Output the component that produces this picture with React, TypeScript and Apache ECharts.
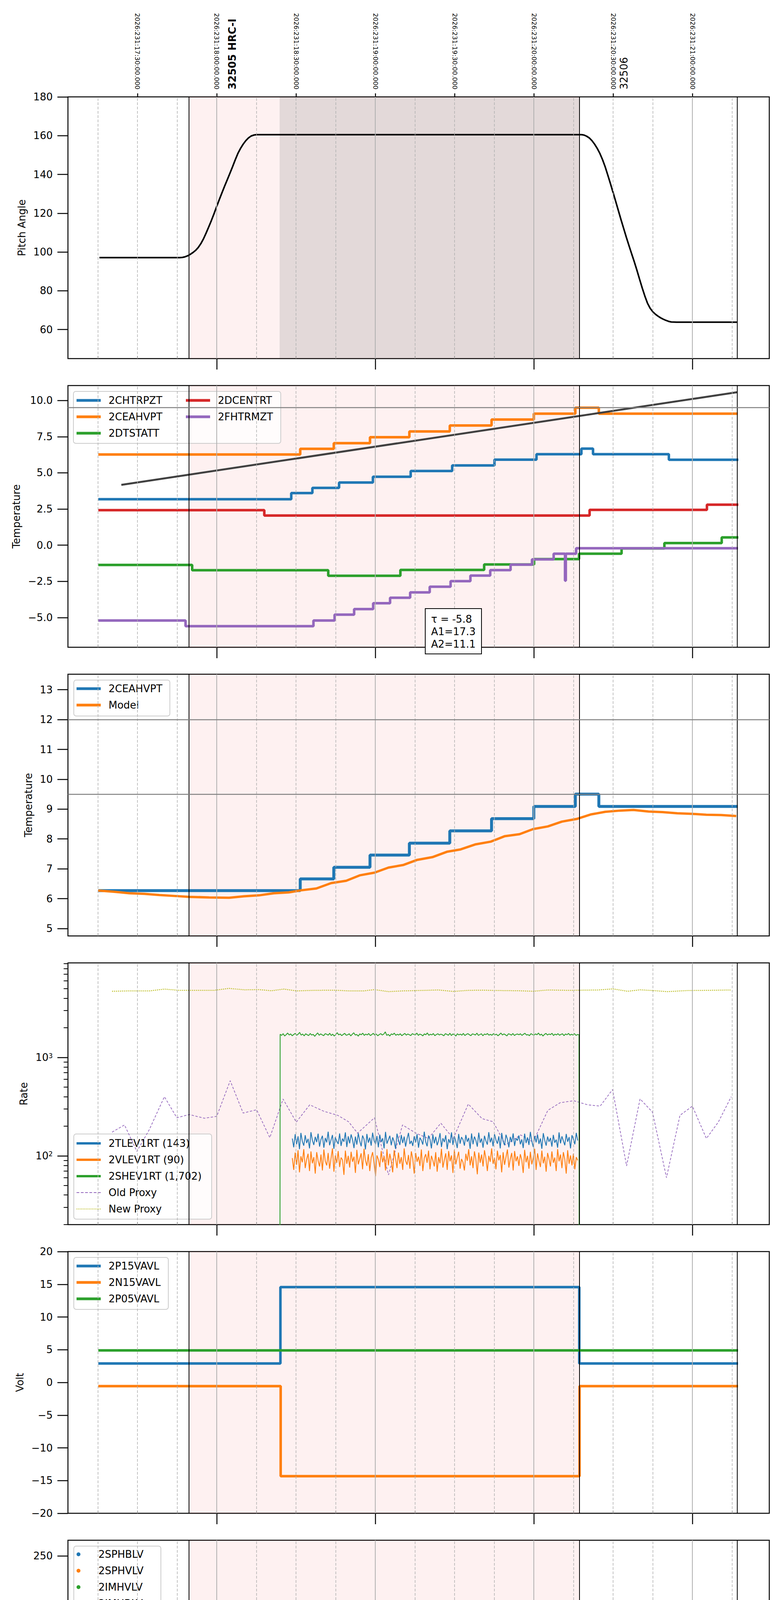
import React, { useEffect, useRef } from 'react';
import * as echarts from 'echarts';

// time axis: minutes after 2026:231:17:00 UTC
const FONT = 'DejaVu Sans';
const T_MIN = 3.7;
const T_MAX = 269.1;
const GRID_TOPS = [248, 987, 1726, 2465, 3204, 3943, 4682, 5421];
const GRID_H = 670;

const HOUR_TICKS = [60, 120, 180, 240];
const QUARTER_TICKS = [15, 30, 45, 75, 90, 105, 135, 150, 165, 195, 210, 225, 255];
const TOP_TICKS = [30, 60, 90, 120, 150, 180, 210, 240];
const BOTTOM_LABELS = [15, 30, 45, 60, 75, 90, 105, 120, 135, 150, 165, 180, 195, 210, 225, 240, 255];

const OBS_START = 49.4;
const SLEW_START = 83.8;
const OBS_END = 197.3;
const LAST_MARK = 257.0;

const BLUE = '#1f77b4';
const ORANGE = '#ff7f0e';
const GREEN = '#2ca02c';
const RED = '#d62728';
const PURPLE = '#9467bd';
const OLIVE = '#bcbd22';
const PINK = 'rgba(240,80,80,0.08)';
const SLEW = 'rgba(115,65,65,0.2)';

// panel 1: pitch
const PITCH = [[15.6, 97.1], [46.0, 97.1], [47.0, 97.2], [48.0, 97.5], [49.0, 98.0], [50.0, 98.8], [51.0, 99.7], [52.0, 100.8], [53.0, 102.3], [54.0, 104.3], [55.0, 106.8], [56.0, 109.8], [57.0, 113.0], [58.0, 116.3], [59.0, 119.8], [60.0, 123.5], [61.0, 127.1], [62.0, 130.6], [63.0, 134.0], [64.0, 137.3], [65.0, 140.6], [66.0, 144.0], [67.0, 147.5], [68.0, 150.8], [69.0, 153.4], [70.0, 155.6], [71.0, 157.4], [72.0, 158.8], [73.0, 159.8], [74.0, 160.3], [75.0, 160.5], [198.1, 160.5], [199.0, 160.3], [200.0, 159.7], [201.0, 158.8], [202.0, 157.4], [203.0, 155.6], [204.0, 153.4], [205.0, 150.8], [206.0, 147.6], [207.0, 143.9], [208.0, 139.6], [209.0, 135.2], [210.0, 130.6], [211.0, 126.0], [212.0, 121.3], [213.0, 116.6], [214.0, 112.1], [215.0, 107.6], [216.0, 103.3], [217.0, 99.1], [218.0, 95.0], [219.0, 90.6], [220.0, 86.0], [221.0, 81.5], [222.0, 77.3], [223.0, 73.6], [224.0, 71.0], [225.0, 69.2], [226.0, 67.9], [227.0, 66.9], [228.0, 66.0], [229.0, 65.3], [230.0, 64.7], [231.0, 64.2], [232.0, 63.9], [234.0, 63.8], [257.0, 63.8]];

// panel 2 / 3 / 8: temperatures
const CHTRPZT = [[15.2, 3.18], [88.2, 3.6], [96.2, 3.96], [106.3, 4.33], [119.1, 4.73], [133.4, 5.13], [149.1, 5.51], [165.1, 5.91], [181.0, 6.29], [198.0, 6.67], [202.4, 6.29], [231.1, 5.9], [257.4, 5.9]];
const CEAHVPT = [[15.2, 6.27], [91.6, 6.66], [104.3, 7.05], [118.0, 7.46], [132.9, 7.86], [148.2, 8.27], [164.0, 8.68], [180.0, 9.09], [195.7, 9.5], [204.6, 9.09], [257.2, 9.09]];
const DTSTATT = [[15.2, -1.36], [50.7, -1.73], [102.2, -2.11], [129.5, -1.71], [161.2, -1.33], [180.1, -0.96], [197.1, -0.59], [213.2, -0.22], [229.4, 0.15], [251.1, 0.54], [257.4, 0.54]];
const DCENTRT = [[15.2, 2.42], [78.0, 2.05], [201.1, 2.44], [245.5, 2.8], [257.4, 2.8]];
const FHTRMZT = [[15.2, -5.2], [48.2, -5.59], [96.6, -5.2], [104.6, -4.8], [112.0, -4.41], [119.2, -4.01], [125.6, -3.63], [133.2, -3.26], [140.6, -2.87], [148.5, -2.48], [156.0, -2.1], [163.5, -1.72], [171.2, -1.34], [179.3, -0.98], [187.5, -0.59], [191.8, -2.45], [192.1, -0.59], [196.0, -0.21], [257.3, -0.21]];
const TREND = [[23.9, 4.17], [257.0, 10.57]];
const MODEL = [[15.1, 6.27], [21.3, 6.23], [27.0, 6.18], [32.6, 6.16], [38.3, 6.12], [44.0, 6.09], [49.6, 6.06], [57.1, 6.04], [64.7, 6.03], [70.3, 6.08], [76.0, 6.11], [81.6, 6.18], [87.3, 6.21], [92.0, 6.28], [97.7, 6.34], [103.3, 6.52], [109.0, 6.6], [114.1, 6.78], [119.7, 6.87], [125.0, 7.04], [130.7, 7.13], [135.9, 7.3], [141.6, 7.39], [147.1, 7.57], [152.3, 7.65], [158.0, 7.82], [163.7, 7.91], [168.9, 8.09], [174.6, 8.16], [179.7, 8.33], [185.3, 8.42], [190.6, 8.58], [196.2, 8.67], [201.5, 8.82], [207.0, 8.91], [212.6, 8.95], [217.7, 8.97], [223.4, 8.92], [228.7, 8.9], [234.3, 8.86], [240.0, 8.84], [245.3, 8.81], [250.9, 8.8], [256.6, 8.77]];

// panel 4: rates (evenly sampled between span ends)
const TLEV1RT_SPAN = [88.6, 196.6];
const TLEV1RT = [
  150, 122, 166, 131, 158, 117, 171, 140, 127, 162, 135, 149, 119, 174, 144, 129, 156, 138, 168, 124,
  147, 160, 121, 152, 137, 176, 128, 145, 163, 118, 155, 141, 132, 169, 126, 150, 139, 173, 123, 158,
  134, 165, 146, 120, 157, 130, 170, 142, 125, 161, 148, 116, 167, 136, 153, 127, 172, 143, 131, 159,
  122, 164, 138, 151, 119, 175, 133, 146, 160, 128, 154, 140, 118, 168, 145, 129, 163, 135, 157, 124,
  149, 171, 132, 142, 126, 158, 137, 166, 121, 153, 144, 130, 176, 139, 125, 161, 147, 119, 165, 134,
  156, 128, 143, 170, 123, 151, 138, 162, 117, 148, 135, 173, 129, 159, 141, 120, 167, 133, 155, 146,
  127, 163, 139, 152, 118, 169, 131, 157, 144, 124, 172, 136, 150, 121, 160, 142, 130, 174, 137, 153,
  125, 166, 145, 133, 158, 119, 171, 140, 128, 164, 147, 122, 156, 138, 169, 126, 151, 143, 161, 131,
  147, 120, 168, 135, 154, 129, 175, 141, 123, 159, 137, 165, 132, 150, 118, 170, 144, 127, 157, 139,
  152, 124, 163, 136, 146, 121, 173, 134, 158, 142, 128, 167, 139, 155, 119, 162, 148, 131, 171, 143,
];
const VLEV1RT_SPAN = [88.6, 196.6];
const VLEV1RT = [
  95, 72, 108, 81, 114, 68, 99, 86, 117, 75, 92, 105, 70, 111, 84, 97, 66, 109, 89, 78,
  103, 71, 116, 88, 80, 107, 74, 94, 119, 69, 101, 85, 112, 77, 96, 91, 64, 113, 83, 100,
  76, 110, 87, 98, 67, 115, 82, 93, 106, 73, 118, 90, 79, 104, 70, 96, 109, 84, 62, 101,
  92, 77, 112, 86, 99, 71, 117, 80, 105, 88, 68, 114, 94, 75, 108, 83, 97, 72, 119, 89,
  81, 102, 74, 111, 93, 66, 107, 87, 98, 79, 116, 70, 95, 104, 85, 113, 73, 100, 90, 78,
  109, 69, 97, 84, 118, 76, 91, 106, 72, 112, 88, 101, 67, 115, 82, 96, 110, 74, 93, 86,
  71, 105, 89, 117, 80, 99, 75, 111, 92, 65, 108, 85, 103, 78, 114, 94, 70, 100, 87, 119,
  83, 96, 73, 113, 90, 102, 68, 109, 81, 97, 116, 76, 93, 107, 71, 112, 88, 99, 79, 104,
  91, 67, 115, 86, 100, 74, 110, 82, 95, 118, 72, 106, 89, 77, 113, 84, 98, 69, 107, 93,
  78, 111, 85, 96, 70, 117, 88, 103, 75, 109, 92, 66, 114, 83, 101, 80, 105, 73, 97, 90,
];
const SHEV1RT_SPAN = [84.0, 197.1];
const SHEV1RT = [
  1720, 1675, 1745, 1650, 1705, 1770, 1690, 1735, 1660, 1710, 1755, 1680, 1725, 1795, 1685, 1730, 1655, 1740, 1700, 1670,
  1750, 1690, 1715, 1640, 1710, 1775, 1680, 1735, 1695, 1665, 1745, 1720, 1685, 1760, 1670, 1725, 1650, 1705, 1785, 1695,
  1730, 1665, 1715, 1755, 1680, 1700, 1740, 1655, 1720, 1780, 1690, 1710, 1645, 1735, 1700, 1765, 1675, 1725, 1695, 1750,
  1670, 1705, 1760, 1685, 1730, 1660, 1710, 1745, 1690, 1725, 1820, 1675, 1715, 1650, 1735, 1705, 1765, 1680, 1720, 1690,
  1740, 1665, 1710, 1755, 1685, 1730, 1700, 1670, 1745, 1715, 1690, 1770, 1675, 1725, 1705, 1655, 1735, 1700, 1775, 1680,
  1720, 1695, 1750, 1665, 1710, 1740, 1690, 1725, 1700, 1660, 1745, 1715, 1680, 1760, 1670, 1730, 1710, 1650, 1740, 1695,
  1725, 1685, 1755, 1670, 1715, 1745, 1700, 1665, 1735, 1720, 1690, 1765, 1675, 1710, 1740, 1660, 1730, 1705, 1750, 1685,
  1715, 1680, 1745, 1695, 1725, 1660, 1710, 1770, 1690, 1735, 1700, 1655, 1740, 1720, 1685, 1750, 1670, 1715, 1730, 1700,
  1740, 1675, 1720, 1760, 1690, 1705, 1665, 1745, 1710, 1680, 1735, 1700, 1770, 1685, 1725, 1650, 1715, 1755, 1690, 1730,
  1705, 1760, 1670, 1725, 1695, 1745, 1680, 1715, 1740, 1665, 1730, 1700, 1755, 1685, 1720, 1690, 1745, 1675, 1710, 1700,
];
const OLD_PROXY = [[20.4, 174], [25.1, 206], [29.8, 111], [34.5, 185], [40.2, 399], [44.9, 244], [49.6, 263], [55.3, 241], [60.0, 252], [65.1, 580], [70.0, 272], [75.1, 294], [80.1, 153], [85.1, 378], [90.1, 220], [95.2, 330], [100.5, 284], [105.8, 258], [109.9, 222], [113.3, 170], [119.7, 244], [125.0, 64], [130.3, 206], [135.4, 170], [140.1, 150], [144.8, 215], [149.5, 150], [155.2, 336], [160.4, 239], [164.6, 222], [169.3, 129], [175.0, 163], [179.7, 138], [185.3, 290], [190.0, 347], [195.1, 363], [200.4, 330], [205.1, 320], [209.8, 472], [215.1, 79], [220.2, 379], [224.9, 278], [230.2, 60], [235.3, 258], [240.0, 320], [245.3, 150], [249.8, 220], [254.7, 399]];
const NEW_PROXY = [[20.4, 4704], [27.0, 4747], [34.6, 4747], [40.2, 4951], [45.8, 4807], [53.4, 4807], [59.0, 4807], [64.7, 5036], [70.3, 4866], [76.0, 4889], [80.7, 4764], [85.4, 4951], [90.2, 4747], [96.8, 4807], [104.3, 4826], [110.0, 4747], [115.6, 4747], [119.7, 4889], [125.0, 4665], [130.6, 4747], [136.3, 4786], [143.8, 4848], [149.6, 4687], [155.2, 4807], [160.8, 4826], [166.5, 4786], [174.1, 4764], [179.7, 4704], [185.3, 4848], [192.9, 4807], [198.5, 4826], [204.3, 4848], [209.9, 4974], [215.5, 4704], [220.2, 4866], [225.0, 4786], [230.5, 4665], [238.1, 4786], [245.6, 4807], [254.6, 4848]];

// panel 5: voltages
const P15VAVL = [[15.2, 2.89], [84.1, 14.56], [197.2, 2.89], [257.3, 2.89]];
const N15VAVL = [[15.2, -0.56], [84.2, -14.33], [197.3, -0.56], [257.3, -0.56]];
const P05VAVL = [[15.2, 4.89], [257.3, 4.89]];

// panel 6: HV monitor samples, grouped into runs
const SPHBLV: number[][][] = [];
const SPHVLV: number[][][] = [];
const IMHVLV = [[[85.3, 99.4]], [[85.7, 97.2]], [[86.0, 95.4]], [[86.4, 92.6]], [[86.7, 90.1]], [[87.0, 88.0]], [[87.3, 85.9]], [[87.7, 84.0]], [[88.0, 82.1]], [[88.3, 80.3]], [[88.5, 78.9], [197.2, 78.9]], [[126.8, 126.9]], [[151.6, 126.9], [153.5, 126.9]]];
const IMHBLV = [[[85.3, 127]], [[85.3, 123]], [[85.4, 119]], [[85.3, 105.7], [85.7, 105.7]], [[86.5, 101.2]], [[86.8, 99.2]], [[87.0, 97.3]], [[87.4, 95.0]], [[87.8, 92.5]], [[88.1, 90.5]], [[88.4, 88.5]], [[88.6, 87.0]], [[88.8, 85.5], [197.2, 85.5]], [[124.0, 78.9]], [[125.8, 78.9]], [[126.9, 78.9]], [[129.2, 78.9]], [[151.6, 78.9], [153.5, 78.9]]];

// panel 7: detector temps
const SPINATM = [[84.8, 3.17], [87.7, 3.66], [120.3, 1.0], [120.7, 3.66], [121.5, 1.0], [122.1, 3.66], [122.5, 1.0], [123.1, 3.66], [123.5, 1.0], [124.1, 3.66], [124.5, 1.0], [125.1, 3.66], [125.5, 1.0], [126.1, 3.66], [126.5, 1.0], [127.1, 3.66], [127.5, 1.0], [128.1, 3.66], [128.5, 1.0], [129.1, 3.66], [129.5, 1.0], [130.2, 3.66], [130.8, 1.0], [131.1, 3.66], [150.5, 1.0], [150.9, 3.66], [151.3, 1.0], [151.9, 3.66], [152.3, 1.0], [152.9, 3.66], [153.3, 1.0], [153.9, 3.66], [154.3, 1.0], [154.9, 3.66], [155.2, 1.0], [155.5, 3.66], [158.2, 1.0], [158.6, 3.66], [165.5, 4.14], [196.6, 4.14]];
const SPHVATM = [[84.5, 14.65], [120.3, 8.67], [120.7, 14.65], [121.3, 8.67], [121.9, 14.65], [122.3, 8.97], [122.9, 14.65], [123.3, 8.97], [123.9, 14.65], [124.3, 8.97], [124.9, 14.65], [125.3, 8.97], [125.9, 15.02], [126.3, 8.97], [126.9, 15.02], [127.3, 8.97], [127.9, 15.02], [128.3, 8.97], [128.9, 15.02], [129.3, 8.97], [129.9, 15.02], [130.3, 8.97], [130.9, 15.02], [144.2, 15.35], [145.3, 9.64], [145.6, 15.35], [150.5, 9.64], [150.9, 15.35], [151.3, 9.64], [151.9, 15.35], [152.3, 9.64], [152.9, 15.35], [153.3, 9.64], [153.9, 15.35], [154.3, 9.64], [154.9, 15.35], [155.2, 9.64], [155.5, 15.35], [158.2, 9.9], [158.6, 15.35], [159.3, 15.7], [175.0, 16.05], [189.1, 16.4], [196.6, 16.4]];
const IMINATM = [[84.5, 2.69], [84.9, 2.15], [85.2, 2.69], [90.1, 2.21], [90.6, 2.69], [91.3, 2.21], [91.9, 2.69], [92.5, 2.21], [93.1, 2.69], [93.7, 2.21], [94.3, 2.69], [95.0, 2.21], [95.6, 2.69], [96.3, 2.21], [96.8, 2.69], [97.2, 2.21], [116.5, 2.69], [117.2, 2.21], [117.8, 2.69], [118.5, 2.21], [119.2, 2.69], [120.3, 3.66], [120.7, 2.69], [121.5, 3.66], [122.1, 2.69], [122.5, 3.66], [123.1, 2.69], [123.5, 3.66], [124.1, 2.69], [124.5, 3.66], [125.1, 2.69], [125.5, 3.66], [126.1, 2.69], [126.5, 3.66], [127.1, 2.69], [127.5, 3.66], [128.1, 2.69], [128.5, 3.66], [129.1, 2.69], [129.5, 3.66], [130.2, 2.69], [130.8, 3.66], [131.1, 2.69], [150.5, 3.66], [150.9, 2.69], [151.3, 3.66], [151.9, 2.69], [152.3, 3.66], [152.9, 2.69], [153.3, 3.66], [153.9, 2.69], [154.3, 3.66], [154.9, 2.69], [155.2, 3.66], [155.5, 2.69], [158.2, 3.66], [158.6, 2.69], [196.6, 2.69]];
const IMHVATM = [[84.4, -5], [84.5, 13.99], [95.8, 14.33], [101.8, 14.68], [107.9, 14.99], [115.0, 15.35], [121.2, 15.7], [121.6, 14.6], [122.2, 15.7], [122.6, 14.6], [123.3, 15.7], [123.7, 15.0], [124.5, 15.7], [124.9, 15.35], [125.8, 15.7], [126.2, 15.0], [127.2, 15.7], [127.6, 15.0], [128.6, 15.7], [129.0, 15.0], [129.8, 15.7], [130.7, 16.04], [139.2, 16.38], [145.3, 15.3], [145.6, 16.38], [149.0, 16.74], [150.5, 15.3], [150.9, 16.74], [151.3, 15.3], [151.9, 16.74], [152.3, 15.3], [152.9, 16.74], [153.3, 15.3], [153.9, 16.74], [154.3, 15.3], [154.9, 16.74], [155.2, 15.3], [155.5, 16.74], [158.2, 15.3], [158.6, 16.74], [158.9, 17.07], [170.2, 17.43], [172.8, 16.9], [173.2, 17.43], [181.6, 17.77], [193.8, 18.13], [196.9, 30], [197.1, -5], [197.2, -5]];

// panel 8: FEA temps
const FRADPYT = [[89.6, -10], [89.7, -7.58], [96.2, -7.17], [102.4, -6.77], [109.0, -6.38], [115.2, -5.98], [122.2, -5.59], [129.7, -5.19], [136.7, -4.8], [144.2, -4.42], [151.0, -4.03], [159.9, -3.65], [168.4, -3.27], [176.3, -2.88], [185.3, -2.5], [193.8, -2.13], [215.1, -1.74], [236.2, -2.13], [257.3, -2.13]];
const FEPRATM = [[84.4, -10], [84.5, -6.02], [86.8, -5.59], [89.6, -5.19], [92.4, -4.8], [95.8, -4.36], [100.5, -3.95], [105.8, -3.52], [111.8, -3.11], [118.8, -2.69], [120.3, -6.02], [120.7, -2.69], [121.5, -6.02], [122.1, -2.69], [122.5, -6.02], [123.1, -2.69], [123.5, -6.02], [124.1, -2.69], [124.5, -6.02], [125.1, -2.69], [125.5, -6.02], [126.1, -2.69], [126.5, -6.02], [127.1, -2.69], [127.5, -6.02], [128.1, -2.69], [128.5, -6.02], [129.1, -2.69], [129.5, -6.02], [130.2, -2.69], [130.8, -6.02], [131.1, -2.69], [131.6, -2.28], [132.9, -1.84], [141.0, -1.4], [149.1, -0.97], [150.5, -6.02], [150.9, -0.97], [151.3, -6.02], [151.9, -0.97], [152.3, -6.02], [152.9, -0.97], [153.3, -6.02], [153.9, -0.97], [154.3, -6.02], [154.9, -0.97], [155.2, -6.02], [155.5, -0.97], [157.0, -0.51], [158.2, -6.02], [158.6, -0.51], [166.1, -0.07], [175.3, 0.37], [184.4, 0.81], [193.8, 1.27], [196.6, 1.27]];
const FE00ATM = [[84.4, -10], [84.5, -6.77], [90.2, -6.4], [97.1, -6.05], [98.8, -5.0], [99.1, -6.05], [101.8, -5.7], [107.1, -5.36], [108.4, -5.7], [108.7, -5.36], [112.2, -4.99], [117.5, -4.64], [120.3, 5], [120.7, -4.64], [121.5, 5], [122.1, -4.35], [122.5, 5], [123.1, -4.35], [123.5, 5], [124.1, -4.35], [124.5, 5], [125.1, -4.35], [125.5, 5], [126.1, -4.35], [126.5, 5], [127.1, -4.35], [127.5, 5], [128.1, -4.35], [128.5, 5], [129.1, -3.96], [129.5, 5], [130.2, -3.96], [130.8, 5], [131.1, -3.96], [133.5, -3.63], [139.2, -3.28], [145.1, 5], [145.4, -2.94], [151.0, 5], [151.4, -2.62], [151.8, 5], [152.4, -2.62], [152.8, 5], [153.4, -2.62], [153.8, 5], [154.4, -2.62], [154.8, 5], [155.3, -2.62], [156.6, -2.28], [158.2, 5], [158.6, -2.28], [163.1, -1.92], [165.9, -1.62], [166.2, -1.92], [169.3, -1.59], [175.5, -0.95], [175.8, -1.28], [182.1, -0.91], [188.2, -0.62], [195.3, -0.27], [196.9, 5], [197.1, -10], [197.2, -10]];

const DASH_ICON = 'path://M0,0h7v2h-7zM11,0h7v2h-7zM22,0h7v2h-7zM33,0h7v2h-7zM44,0h7v2h-7zM55,0h7v2h-7z';
const DOT_ICON = 'path://' + Array.from({ length: 16 }, (_, k) => `M${k * 4},0h2v2h-2z`).join('');

const sampled = (span: number[], vals: number[]) =>
  vals.map((v, i) => [span[0] + (i * (span[1] - span[0])) / (vals.length - 1), v]);

const joinRuns = (runs: number[][][]) => {
  const out: any[] = [];
  runs.forEach((r, k) => {
    if (k > 0) out.push(['-', '-']);
    r.forEach((p) => out.push(p));
  });
  return out;
};

const minus = (s: string) => s.replace('-', '\u2212');

const hostSeries = (i: number, areas: any[], hLines: number[]) => ({
  type: 'line',
  name: '__frame' + i,
  xAxisIndex: i,
  yAxisIndex: i,
  data: [],
  z: 1,
  silent: true,
  markArea: { silent: true, data: areas },
  markLine: {
    silent: true,
    symbol: ['none', 'none'],
    label: { show: false },
    data: [
      ...QUARTER_TICKS.map((t) => ({ xAxis: t, lineStyle: { color: '#b0b0b0', width: 1.5, type: [7, 4] } })),
      ...HOUR_TICKS.map((t) => ({ xAxis: t, lineStyle: { color: '#b0b0b0', width: 2, type: 'solid' } })),
      ...[OBS_START, OBS_END, LAST_MARK].map((t) => ({ xAxis: t, lineStyle: { color: '#000', width: 2, type: 'solid' } })),
      ...hLines.map((v) => ({ yAxis: v, lineStyle: { color: '#808080', width: 2.5, type: 'solid' } })),
    ],
  },
});

const line = (i: number, name: string, data: any[], color: string, width: number, extra: any = {}) => ({
  type: 'line',
  name,
  xAxisIndex: i,
  yAxisIndex: i,
  data,
  symbol: 'none',
  color,
  lineStyle: { color, width },
  ...extra,
});

const obsArea = [[{ xAxis: OBS_START, itemStyle: { color: PINK } }, { xAxis: OBS_END }]];

const yAxis = (i: number, min: number, max: number, ticks: number[], name: string, nameGap: number, fmt: any) => ({
  type: 'value',
  gridIndex: i,
  min,
  max,
  name,
  nameLocation: 'middle',
  nameGap,
  nameRotate: 90,
  nameTextStyle: { fontSize: 26, color: '#000', fontFamily: FONT },
  axisLine: { show: false, onZero: false },
  splitLine: { show: false },
  axisTick: { show: true, customValues: ticks, length: 27, lineStyle: { color: '#000', width: 2.5 } },
  axisLabel: { customValues: ticks, fontSize: 26, color: '#000', fontFamily: FONT, margin: 39, formatter: fmt },
});

const legend = (left: number, top: number, data: any[], extra: any = {}) => ({
  left,
  top,
  orient: 'vertical',
  padding: 0,
  itemWidth: 62,
  itemHeight: 7,
  itemGap: 12,
  icon: 'rect',
  selectedMode: false,
  data,
  formatter: (n: string) => `{n|${n.trim()}}`,
  textStyle: {
    fontSize: 26,
    color: '#000',
    fontFamily: FONT,
    lineHeight: 30,
    rich: { n: { fontSize: 26, color: '#000', fontFamily: FONT, lineHeight: 30, padding: [0, 0, 0, 15] } },
  },
  ...extra,
});

const legendFrame = (x: number, y: number, w: number, h: number) => ({
  type: 'rect',
  z: 3,
  shape: { x, y, width: w, height: h, r: 6 },
  style: { fill: 'rgba(255,255,255,0.8)', stroke: '#cccccc', lineWidth: 2 },
});

const rotText = (x: number, text: string, weight: string) => ({
  type: 'text',
  x,
  y: 229,
  rotation: Math.PI / 2,
  z: 5,
  style: {
    text,
    fontSize: 26,
    fontWeight: weight,
    fontFamily: FONT,
    fill: '#000',
    align: 'left',
    verticalAlign: 'middle',
    textAlign: 'left',
    textVerticalAlign: 'middle',
  },
});

function buildOption() {
  const G = GRID_TOPS;
  const xAxes: any[] = GRID_TOPS.map((_, i) => ({
    type: 'value',
    gridIndex: i,
    min: T_MIN,
    max: T_MAX,
    position: 'bottom',
    axisLine: { show: false, onZero: false },
    splitLine: { show: false },
    axisTick: { show: true, customValues: HOUR_TICKS, length: 28, lineStyle: { color: '#000', width: 2.5 } },
    axisLabel:
      i === 7
        ? {
            customValues: BOTTOM_LABELS,
            color: '#000',
            fontFamily: FONT,
            margin: 7,
            formatter: (v: number) => (v % 60 === 0 ? `{mj|${v / 60 + 13}h}` : `{mn|${v % 60}}`),
            rich: {
              mn: { fontSize: 18, fontFamily: FONT, color: '#000' },
              mj: { fontSize: 27, fontFamily: FONT, color: '#000', padding: [28, 0, 0, 0] },
            },
          }
        : { show: false },
    ...(i === 7
      ? {
          name: '2026-08-19 (231)',
          nameLocation: 'middle',
          nameGap: 74,
          nameTextStyle: { fontSize: 30, color: '#000', fontFamily: FONT },
        }
      : {}),
  }));
  xAxes.push({
    type: 'value',
    gridIndex: 0,
    min: T_MIN,
    max: T_MAX,
    position: 'top',
    axisLine: { show: false, onZero: false },
    splitLine: { show: false },
    axisTick: { show: true, customValues: TOP_TICKS, length: 9, lineStyle: { color: '#000', width: 2.5 } },
    axisLabel: {
      customValues: TOP_TICKS,
      rotate: 90,
      margin: 19,
      fontSize: 16.5,
      color: '#000',
      fontFamily: FONT,
      formatter: (v: number) => {
        const tot = 17 * 60 + v;
        return `2026:231:${Math.floor(tot / 60)}:${String(tot % 60).padStart(2, '0')}:00.000`;
      },
    },
  });
  // minor (quarter-hour) ticks, pointing inward
  GRID_TOPS.forEach((_, i) =>
    xAxes.push({
      type: 'value',
      gridIndex: i,
      min: T_MIN,
      max: T_MAX,
      position: 'bottom',
      axisLine: { show: false, onZero: false },
      splitLine: { show: false },
      axisLabel: { show: false },
      axisTick: { show: true, inside: true, customValues: QUARTER_TICKS, length: 7, lineStyle: { color: '#333', width: 1.5 } },
    }),
  );

  const yAxes: any[] = [
    yAxis(0, 45, 180, [60, 80, 100, 120, 140, 160, 180], 'Pitch Angle', 105, (v: number) => String(v)),
    yAxis(1, -7.05, 11.03, [-5, -2.5, 0, 2.5, 5, 7.5, 10], 'Temperature', 119, (v: number) => minus(v.toFixed(1))),
    yAxis(2, 4.75, 13.52, [5, 6, 7, 8, 9, 10, 11, 12, 13], 'Temperature', 88, (v: number) => String(v)),
    {
      ...yAxis(3, 20, 9140, [100, 1000], 'Rate', 100, (v: number) => `10{sup|${Math.round(Math.log10(v))}}`),
      type: 'log',
      logBase: 10,
    },
    yAxis(4, -20, 20, [-20, -15, -10, -5, 0, 5, 10, 15, 20], 'Volt', 110, (v: number) => minus(String(v))),
    yAxis(5, 0, 266, [0, 50, 100, 150, 200, 250], 'HV Monitor', 107, (v: number) => String(v)),
    yAxis(6, 1.18, 18.56, [2, 4, 6, 8, 10, 12, 14, 16, 18], 'Detector Temp', 88, (v: number) => String(v)),
    yAxis(7, -7.88, 1.41, [-6, -4, -2, 0], 'FEA Temp', 95, (v: number) => minus(String(v))),
  ];
  yAxes[3].axisLabel.rich = { sup: { fontSize: 17, fontFamily: FONT, color: '#000', verticalAlign: 'top' } };
  yAxes.push({
    type: 'log',
    logBase: 10,
    gridIndex: 3,
    position: 'left',
    min: 20,
    max: 9140,
    axisLine: { show: false, onZero: false },
    splitLine: { show: false },
    axisLabel: { show: false },
    axisTick: {
      show: true,
      customValues: [20, 30, 40, 50, 60, 70, 80, 90, 200, 300, 400, 500, 600, 700, 800, 900, 2000, 3000, 4000, 5000, 6000, 7000, 8000, 9000],
      length: 11,
      lineStyle: { color: '#000', width: 2 },
    },
  });

  const hv = (name: string, runs: number[][][], color: string, width: number) =>
    line(5, name, joinRuns(runs), color, width, {
      symbol: 'circle',
      symbolSize: 11,
      showSymbol: true,
      connectNulls: false,
      itemStyle: { color },
      lineStyle: { color, width, cap: 'round' },
    });

  const series: any[] = [
    hostSeries(0, [
      [{ xAxis: OBS_START, itemStyle: { color: PINK } }, { xAxis: SLEW_START }],
      [{ xAxis: SLEW_START, itemStyle: { color: SLEW } }, { xAxis: OBS_END }],
    ], []),
    line(0, 'Pitch', PITCH, '#000', 4),

    hostSeries(1, obsArea, [9.5]),
    line(1, '2CHTRPZT', CHTRPZT, BLUE, 6.5, { step: 'end' }),
    line(1, '2CEAHVPT', CEAHVPT, ORANGE, 6.5, { step: 'end' }),
    line(1, '2DTSTATT', DTSTATT, GREEN, 6.5, { step: 'end' }),
    line(1, '2DCENTRT', DCENTRT, RED, 6.5, { step: 'end' }),
    line(1, '2FHTRMZT', FHTRMZT, PURPLE, 6.5, { step: 'end' }),
    line(1, 'trend', TREND, '#404040', 5),

    hostSeries(2, obsArea, [9.5, 12]),
    line(2, '2CEAHVPT ', CEAHVPT, BLUE, 7.5, { step: 'end' }),
    line(2, 'Model', MODEL, ORANGE, 6),

    hostSeries(3, obsArea, []),
    line(3, 'Old Proxy', OLD_PROXY, PURPLE, 1.8, { lineStyle: { color: PURPLE, width: 1.8, type: [6, 4] } }),
    line(3, 'New Proxy', NEW_PROXY, OLIVE, 2.5, { lineStyle: { color: OLIVE, width: 2.5, type: [2.5, 2.5] } }),
    line(3, '2TLEV1RT (143)', sampled(TLEV1RT_SPAN, TLEV1RT), BLUE, 2.2),
    line(3, '2VLEV1RT (90)', sampled(VLEV1RT_SPAN, VLEV1RT), ORANGE, 2.2),
    line(3, '2SHEV1RT (1,702)', [[SHEV1RT_SPAN[0] - 0.1, 1], ...sampled(SHEV1RT_SPAN, SHEV1RT), [SHEV1RT_SPAN[1] + 0.1, 1]], GREEN, 2.2),

    hostSeries(4, obsArea, []),
    line(4, '2P15VAVL', P15VAVL, BLUE, 6.5, { step: 'end' }),
    line(4, '2N15VAVL', N15VAVL, ORANGE, 6.5, { step: 'end' }),
    line(4, '2P05VAVL', P05VAVL, GREEN, 6.5, { step: 'end' }),

    hostSeries(5, obsArea, []),
    hv('2SPHBLV', SPHBLV, BLUE, 11),
    hv('2SPHVLV', SPHVLV, ORANGE, 11),
    hv('2IMHVLV', IMHVLV, GREEN, 12),
    hv('2IMHBLV', IMHBLV, RED, 14),

    hostSeries(6, obsArea, []),
    line(6, '2SPINATM', SPINATM, BLUE, 7, { step: 'end' }),
    line(6, '2SPHVATM', SPHVATM, ORANGE, 7, { step: 'end' }),
    line(6, '2IMINATM', IMINATM, GREEN, 7, { step: 'end' }),
    line(6, '2IMHVATM', IMHVATM, RED, 7, { step: 'end' }),

    hostSeries(7, obsArea, []),
    line(7, '2FHTRMZT ', FHTRMZT, BLUE, 7, { step: 'end' }),
    line(7, '2FRADPYT', FRADPYT, ORANGE, 7, { step: 'end' }),
    line(7, '2FEPRATM', FEPRATM, GREEN, 7, { step: 'end' }),
    line(7, '2FE00ATM', FE00ATM, RED, 7, { step: 'end' }),
  ];

  const legends = [
    legend(196, G[1] + 23, ['2CHTRPZT', '2CEAHVPT', '2DTSTATT']),
    legend(476, G[1] + 23, ['2DCENTRT', '2FHTRMZT']),
    legend(196, G[2] + 22, ['2CEAHVPT ', 'Model']),
    legend(196, G[3] + 447, ['2TLEV1RT (143)', '2VLEV1RT (90)', '2SHEV1RT (1,702)'], { itemHeight: 6 }),
    legend(196, G[3] + 447 + 126, [{ name: 'Old Proxy', icon: DASH_ICON }, { name: 'New Proxy', icon: DOT_ICON }], { itemHeight: 2 }),
    legend(196, G[4] + 22, ['2P15VAVL', '2N15VAVL', '2P05VAVL']),
    legend(196, G[5] + 21, ['2SPHBLV', '2SPHVLV', '2IMHVLV', '2IMHBLV'], { icon: 'circle', itemHeight: 10 }),
    legend(196, G[6] + 21, ['2SPINATM', '2SPHVATM', '2IMINATM', '2IMHVATM']),
    legend(196, G[7] + 21, ['2FHTRMZT ', '2FRADPYT', '2FEPRATM', '2FE00ATM']),
  ];

  const graphic = [
    rotText(595, '32505 HRC-I', 'bold'),
    rotText(1598, '32506', 'normal'),
    legendFrame(188, G[1] + 15, 531, 133),
    legendFrame(189, G[2] + 15, 246, 92),
    legendFrame(189, G[3] + 438, 353, 218),
    legendFrame(189, G[4] + 15, 242, 133),
    legendFrame(189, G[5] + 15, 223, 174),
    legendFrame(189, G[6] + 14, 246, 176),
    legendFrame(189, G[7] + 14, 248, 175),
    {
      type: 'text',
      x: 1090,
      y: 1559,
      z: 10,
      style: {
        text: '\u03c4 = -5.8\nA1=17.3\nA2=11.1',
        fontSize: 26,
        fontFamily: FONT,
        lineHeight: 32,
        fill: '#000',
        backgroundColor: '#fff',
        borderColor: '#000',
        borderWidth: 2,
        padding: [10, 14, 8, 14],
        align: 'left',
        verticalAlign: 'top',
      },
    },
  ];

  return {
    animation: false,
    backgroundColor: '#fff',
    textStyle: { fontFamily: FONT },
    grid: GRID_TOPS.map((top) => ({
      left: 174,
      right: 30,
      top,
      height: GRID_H,
      show: true,
      borderColor: '#000',
      borderWidth: 2.5,
      backgroundColor: 'transparent',
    })),
    xAxis: xAxes,
    yAxis: yAxes,
    legend: legends,
    graphic,
    series,
  };
}

export default function App() {
  const ref = useRef<HTMLDivElement>(null);
  useEffect(() => {
    document.body.style.margin = '0';
    if (!ref.current) return;
    const chart = echarts.init(ref.current, undefined, { renderer: 'svg' });
    chart.setOption(buildOption() as any);
    return () => chart.dispose();
  }, []);
  return <div ref={ref} style={{ width: 2000, height: 6200 }} />;
}
